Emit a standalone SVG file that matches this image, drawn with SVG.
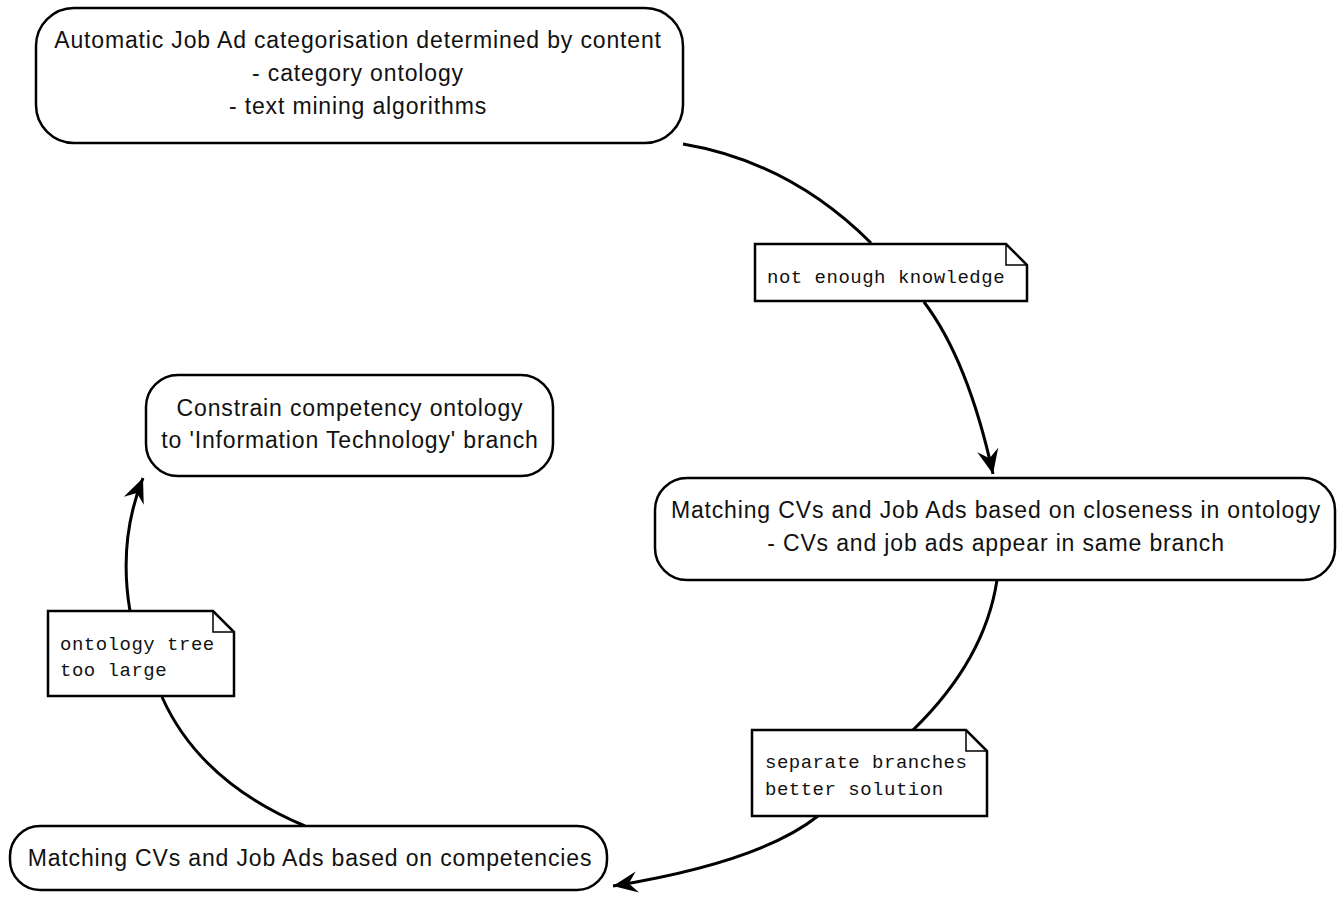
<svg xmlns="http://www.w3.org/2000/svg" width="1343" height="900" viewBox="0 0 1343 900">
  <style>
    .box { fill: #ffffff; stroke: #000000; stroke-width: 2.5; }
    .note { fill: #ffffff; stroke: #000000; stroke-width: 2.5; stroke-linejoin: miter; }
    .fold { fill: none; stroke: #000000; stroke-width: 1.5; }
    .label { font-family: "Liberation Sans", Arial, sans-serif; font-size: 23px; letter-spacing: 0.85px; fill: #111111; text-anchor: middle; }
    .mono { font-family: "Liberation Mono", "Courier New", monospace; font-size: 19px; letter-spacing: 0.5px; fill: #111111; }
    .edge { fill: none; stroke: #000000; stroke-width: 3; }
  </style>
  <defs>
    <marker id="arrow" markerUnits="userSpaceOnUse" markerWidth="30" markerHeight="30" viewBox="-24 -12 28 24" refX="0" refY="0" orient="auto">
      <path d="M0,0 L-23,-10 L-15,0 L-23,10 Z" fill="#000000"/>
    </marker>
  </defs>
  <rect width="1343" height="900" fill="#ffffff"/>

  <!-- connectors -->
  <g id="connectors">
    <path class="edge" d="M683,144 Q790,162 871,243"/>
    <path class="edge" d="M924,302 Q968,360 993,474" marker-end="url(#arrow)"/>
    <path class="edge" d="M997,580 Q985,660 913,730"/>
    <path class="edge" d="M818,816 Q760,862 613,886" marker-end="url(#arrow)"/>
    <path class="edge" d="M305,826 Q200,782 162,697"/>
    <path class="edge" d="M130,611 Q118,540 143,478" marker-end="url(#arrow)"/>
  </g>

  <!-- process nodes -->
  <g id="node-categorisation">
    <rect class="box" x="36" y="8" width="647" height="135" rx="38" ry="38"/>
    <text class="label" x="358" y="48">Automatic Job Ad categorisation determined by content</text>
    <text class="label" x="358" y="81">- category ontology</text>
    <text class="label" x="358" y="114">- text mining algorithms</text>
  </g>

  <g id="node-closeness">
    <rect class="box" x="655" y="478" width="680" height="102" rx="32" ry="32"/>
    <text class="label" x="996" y="518">Matching CVs and Job Ads based on closeness in ontology</text>
    <text class="label" x="996" y="551">- CVs and job ads appear in same branch</text>
  </g>

  <g id="node-constrain">
    <rect class="box" x="146" y="375" width="407" height="101" rx="32" ry="32"/>
    <text class="label" x="350" y="416">Constrain competency ontology</text>
    <text class="label" x="350" y="448">to 'Information Technology' branch</text>
  </g>

  <g id="node-competencies">
    <rect class="box" x="10" y="826" width="597" height="64" rx="30" ry="30"/>
    <text class="label" x="310" y="866">Matching CVs and Job Ads based on competencies</text>
  </g>

  <!-- annotation notes -->
  <g id="note-knowledge">
    <path class="note" d="M755,244 L1006,244 L1027,265 L1027,301 L755,301 Z"/>
    <path class="fold" d="M1006,244 L1006,265 L1027,265"/>
    <text class="mono" x="767" y="283">not enough knowledge</text>
  </g>

  <g id="note-branches">
    <path class="note" d="M752,730 L966,730 L987,751 L987,816 L752,816 Z"/>
    <path class="fold" d="M966,730 L966,751 L987,751"/>
    <text class="mono" x="765" y="768">separate branches</text>
    <text class="mono" x="765" y="795">better solution</text>
  </g>

  <g id="note-tree">
    <path class="note" d="M48,611 L213,611 L234,632 L234,696 L48,696 Z"/>
    <path class="fold" d="M213,611 L213,632 L234,632"/>
    <text class="mono" x="60" y="650">ontology tree</text>
    <text class="mono" x="60" y="676">too large</text>
  </g>
</svg>
